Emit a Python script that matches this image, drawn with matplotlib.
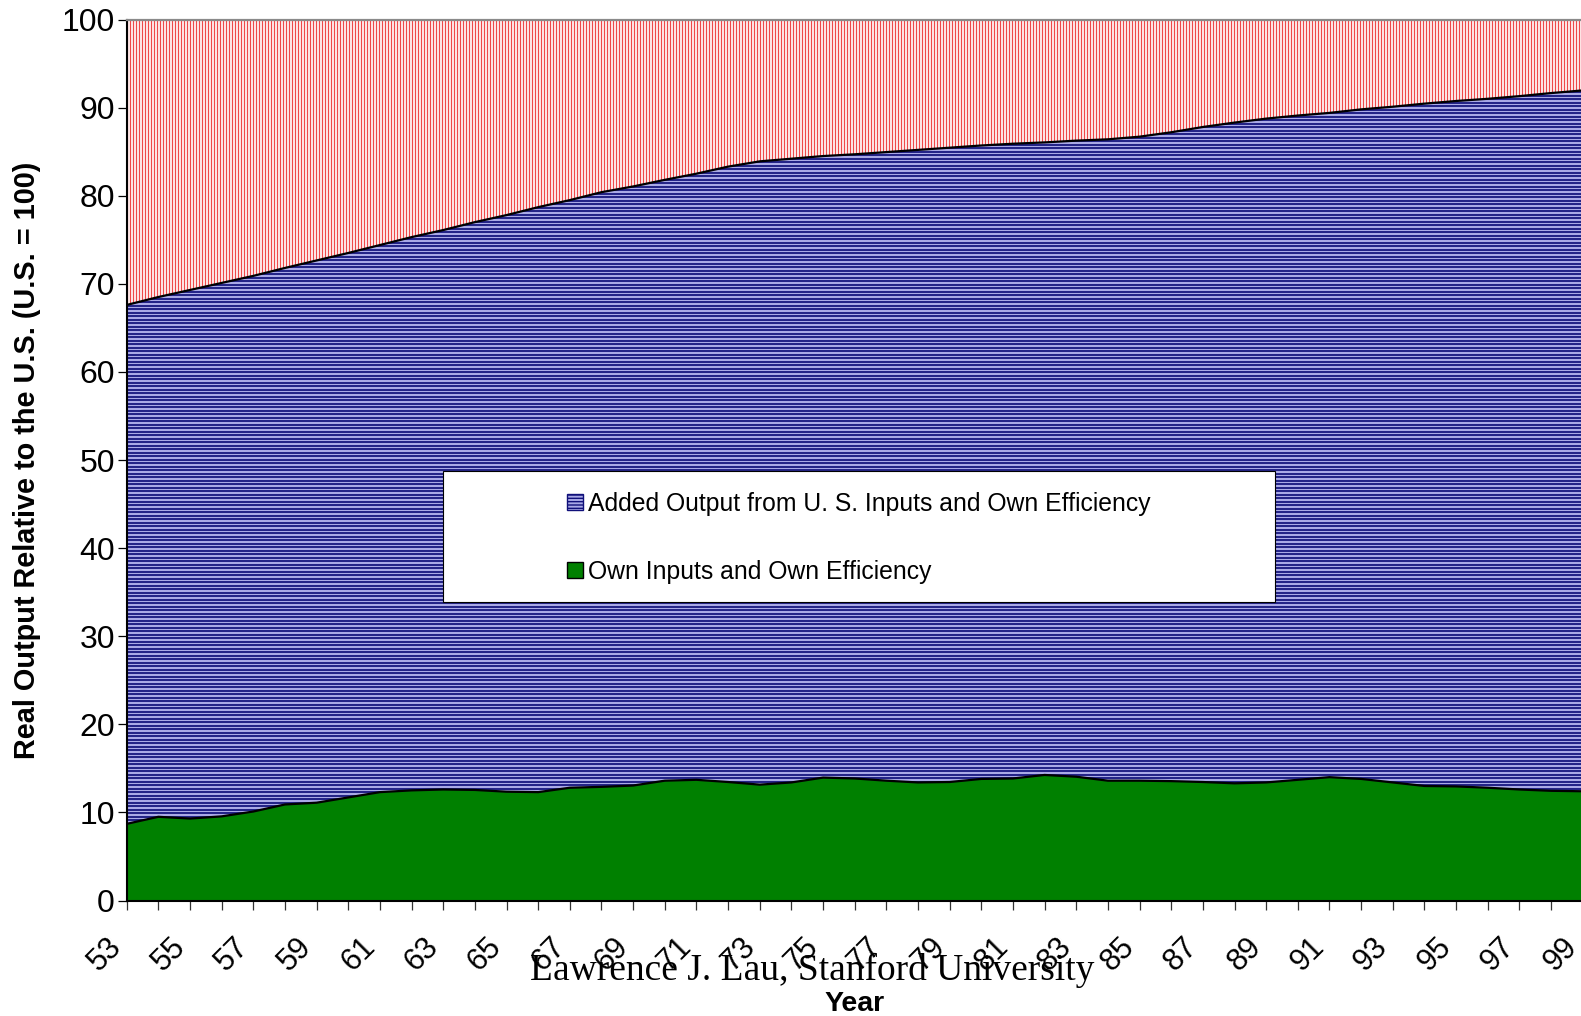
import numpy as np
import matplotlib
matplotlib.use("Agg")
import matplotlib.pyplot as plt
from matplotlib.collections import LineCollection
from matplotlib.patches import Patch, Rectangle
from matplotlib.transforms import IdentityTransform, ScaledTranslation

plt.rcParams['font.family'] = ['Liberation Sans', 'DejaVu Sans']

# Years 1953-1999 (two-digit labels)
years = [53, 54, 55, 56, 57, 58, 59, 60, 61, 62,
         63, 64, 65, 66, 67, 68, 69, 70, 71, 72,
         73, 74, 75, 76, 77, 78, 79, 80, 81, 82,
         83, 84, 85, 86, 87, 88, 89, 90, 91, 92,
         93, 94, 95, 96, 97, 98, 99]

# Real output relative to the U.S. (U.S. = 100) using own inputs and own efficiency
own_inputs = [8.7, 9.5, 9.3, 9.55, 10.1, 10.9, 11.1, 11.7, 12.3, 12.5,
              12.6, 12.55, 12.35, 12.3, 12.8, 12.9, 13.05, 13.6, 13.7, 13.45,
              13.15, 13.4, 13.95, 13.85, 13.6, 13.4, 13.45, 13.8, 13.85, 14.25,
              14.05, 13.6, 13.6, 13.55, 13.45, 13.3, 13.4, 13.7, 14.0, 13.8,
              13.4, 13.0, 12.95, 12.8, 12.6, 12.45, 12.4]

# Level reached with U.S. inputs and own efficiency (top of the added-output layer)
with_us_inputs = [67.6, 68.5, 69.3, 70.1, 70.9, 71.8, 72.65, 73.5, 74.4, 75.3,
                  76.1, 77.0, 77.8, 78.7, 79.5, 80.4, 81.05, 81.8, 82.5, 83.3,
                  83.9, 84.2, 84.5, 84.7, 84.95, 85.2, 85.45, 85.7, 85.9, 86.05,
                  86.25, 86.4, 86.7, 87.2, 87.8, 88.3, 88.75, 89.1, 89.4, 89.8,
                  90.1, 90.45, 90.75, 91.0, 91.3, 91.65, 91.95]

us_level = 100

legend_labels = ["Added Output from U. S. Inputs and Own Efficiency",
                 "Own Inputs and Own Efficiency"]

W, H = 1581, 1016
fig = plt.figure(figsize=(W / 100, H / 100), dpi=100)
fig.patch.set_facecolor('white')
ax = fig.add_axes([126.7 / W, 1 - 900.5 / H, 1456 / W, 881 / H])
ax.set_xlim(years[0], years[-1])
ax.set_ylim(0, us_level)

x = np.array(years, dtype=float)
own = np.array(own_inputs)
tot = np.array(with_us_inputs)
top = np.full_like(x, us_level)

green_col = '#008000'
blue_bg = '#a9a9e6'
navy = '#10107a'
red_line = '#ee4a4a'

green = ax.fill_between(x, 0, own, facecolor=green_col, edgecolor='none', zorder=2)
blue = ax.fill_between(x, own, tot, facecolor=blue_bg, edgecolor='none', zorder=2)
red = ax.fill_between(x, tot, top, facecolor='#fff4f4', edgecolor='none', zorder=2)

# Pattern fills: pixel-aligned stripes clipped to each area
bb = ax.bbox
vx = np.arange(np.floor(bb.x0), bb.x1 + 3, 3.0) + 0.5
vsegs = [[(v, bb.y0 - 2), (v, bb.y1 + 2)] for v in vx]
red_lines = LineCollection(vsegs, colors=red_line, linewidths=0.85,
                           transform=IdentityTransform(), zorder=3)
red_lines.set_clip_path(red.get_paths()[0], ax.transData)
ax.add_collection(red_lines, autolim=False)

hy = np.arange(np.floor(bb.y0), bb.y1 + 4, 3.5) + 0.5
hsegs = [[(bb.x0 - 2, h), (bb.x1 + 2, h)] for h in hy]
blue_lines = LineCollection(hsegs, colors=navy, linewidths=1.25,
                            transform=IdentityTransform(), zorder=3)
blue_lines.set_clip_path(blue.get_paths()[0], ax.transData)
ax.add_collection(blue_lines, autolim=False)

# Area outlines
ax.plot(x, own, color='black', lw=1.6, zorder=4)
ax.plot(x, tot, color='black', lw=1.6, zorder=4)

# Spines
for s in ('left', 'bottom'):
    ax.spines[s].set_color('black')
    ax.spines[s].set_linewidth(1.5)
ax.spines['top'].set_color('#8a8a8a')
ax.spines['top'].set_linewidth(1.6)
ax.spines['right'].set_visible(False)
for s in ax.spines.values():
    s.set_zorder(6)

# Ticks
ax.set_yticks(range(0, us_level + 1, 10))
ax.tick_params(axis='y', direction='out', length=6.5, width=0.9, color='black',
               pad=2, labelsize=23)
ax.set_xticks(years)
ax.tick_params(axis='x', direction='out', length=6.5, width=0.9, color='#333333',
               pad=16)
xlabels = [str(y) if (y - years[0]) % 2 == 0 else '' for y in years]
ax.set_xticklabels(xlabels, rotation=45, ha='right', va='top',
                   rotation_mode='anchor', fontsize=22)
shift = ScaledTranslation(-20 / 100, 0, fig.dpi_scale_trans)
for lbl in ax.get_xticklabels():
    lbl.set_transform(lbl.get_transform() + shift)

# Axis titles
fig.text(27 / W, 1 - 460 / H, 'Real Output Relative to the U.S. (U.S. = 100)',
         rotation=90, ha='center', va='center', fontsize=20.8, fontweight='bold')
fig.text(855 / W, 1 - 1004 / H, 'Year', ha='center', va='center',
         fontsize=20.5, fontweight='bold')

# Legend box and entries
box = Rectangle((443 / W, 1 - 602 / H), (1275 - 443) / W, (602 - 471) / H,
                transform=fig.transFigure, facecolor='white', edgecolor='black',
                linewidth=0.8, zorder=7, clip_on=False)
ax.add_patch(box)
handles = [Patch(facecolor=blue_bg, edgecolor=navy, hatch='-----', linewidth=1.0),
           Patch(facecolor=green_col, edgecolor='black', linewidth=1.0)]
leg = ax.legend(handles, legend_labels, loc='upper left',
                bbox_to_anchor=(567 / W, 1 - 492 / H), bbox_transform=fig.transFigure,
                frameon=False, fontsize=17.8, handlelength=0.64, handleheight=0.64,
                handletextpad=0.22, labelspacing=1.78, borderpad=0, borderaxespad=0)
leg.set_zorder(8)

# Footer
fig.text(812 / W, 1 - 980 / H, 'Lawrence J. Lau, Stanford University',
         family=['Liberation Serif', 'DejaVu Serif'], fontsize=27,
         ha='center', va='baseline', zorder=10)

fig.savefig('out.png', dpi=100, facecolor='white')
